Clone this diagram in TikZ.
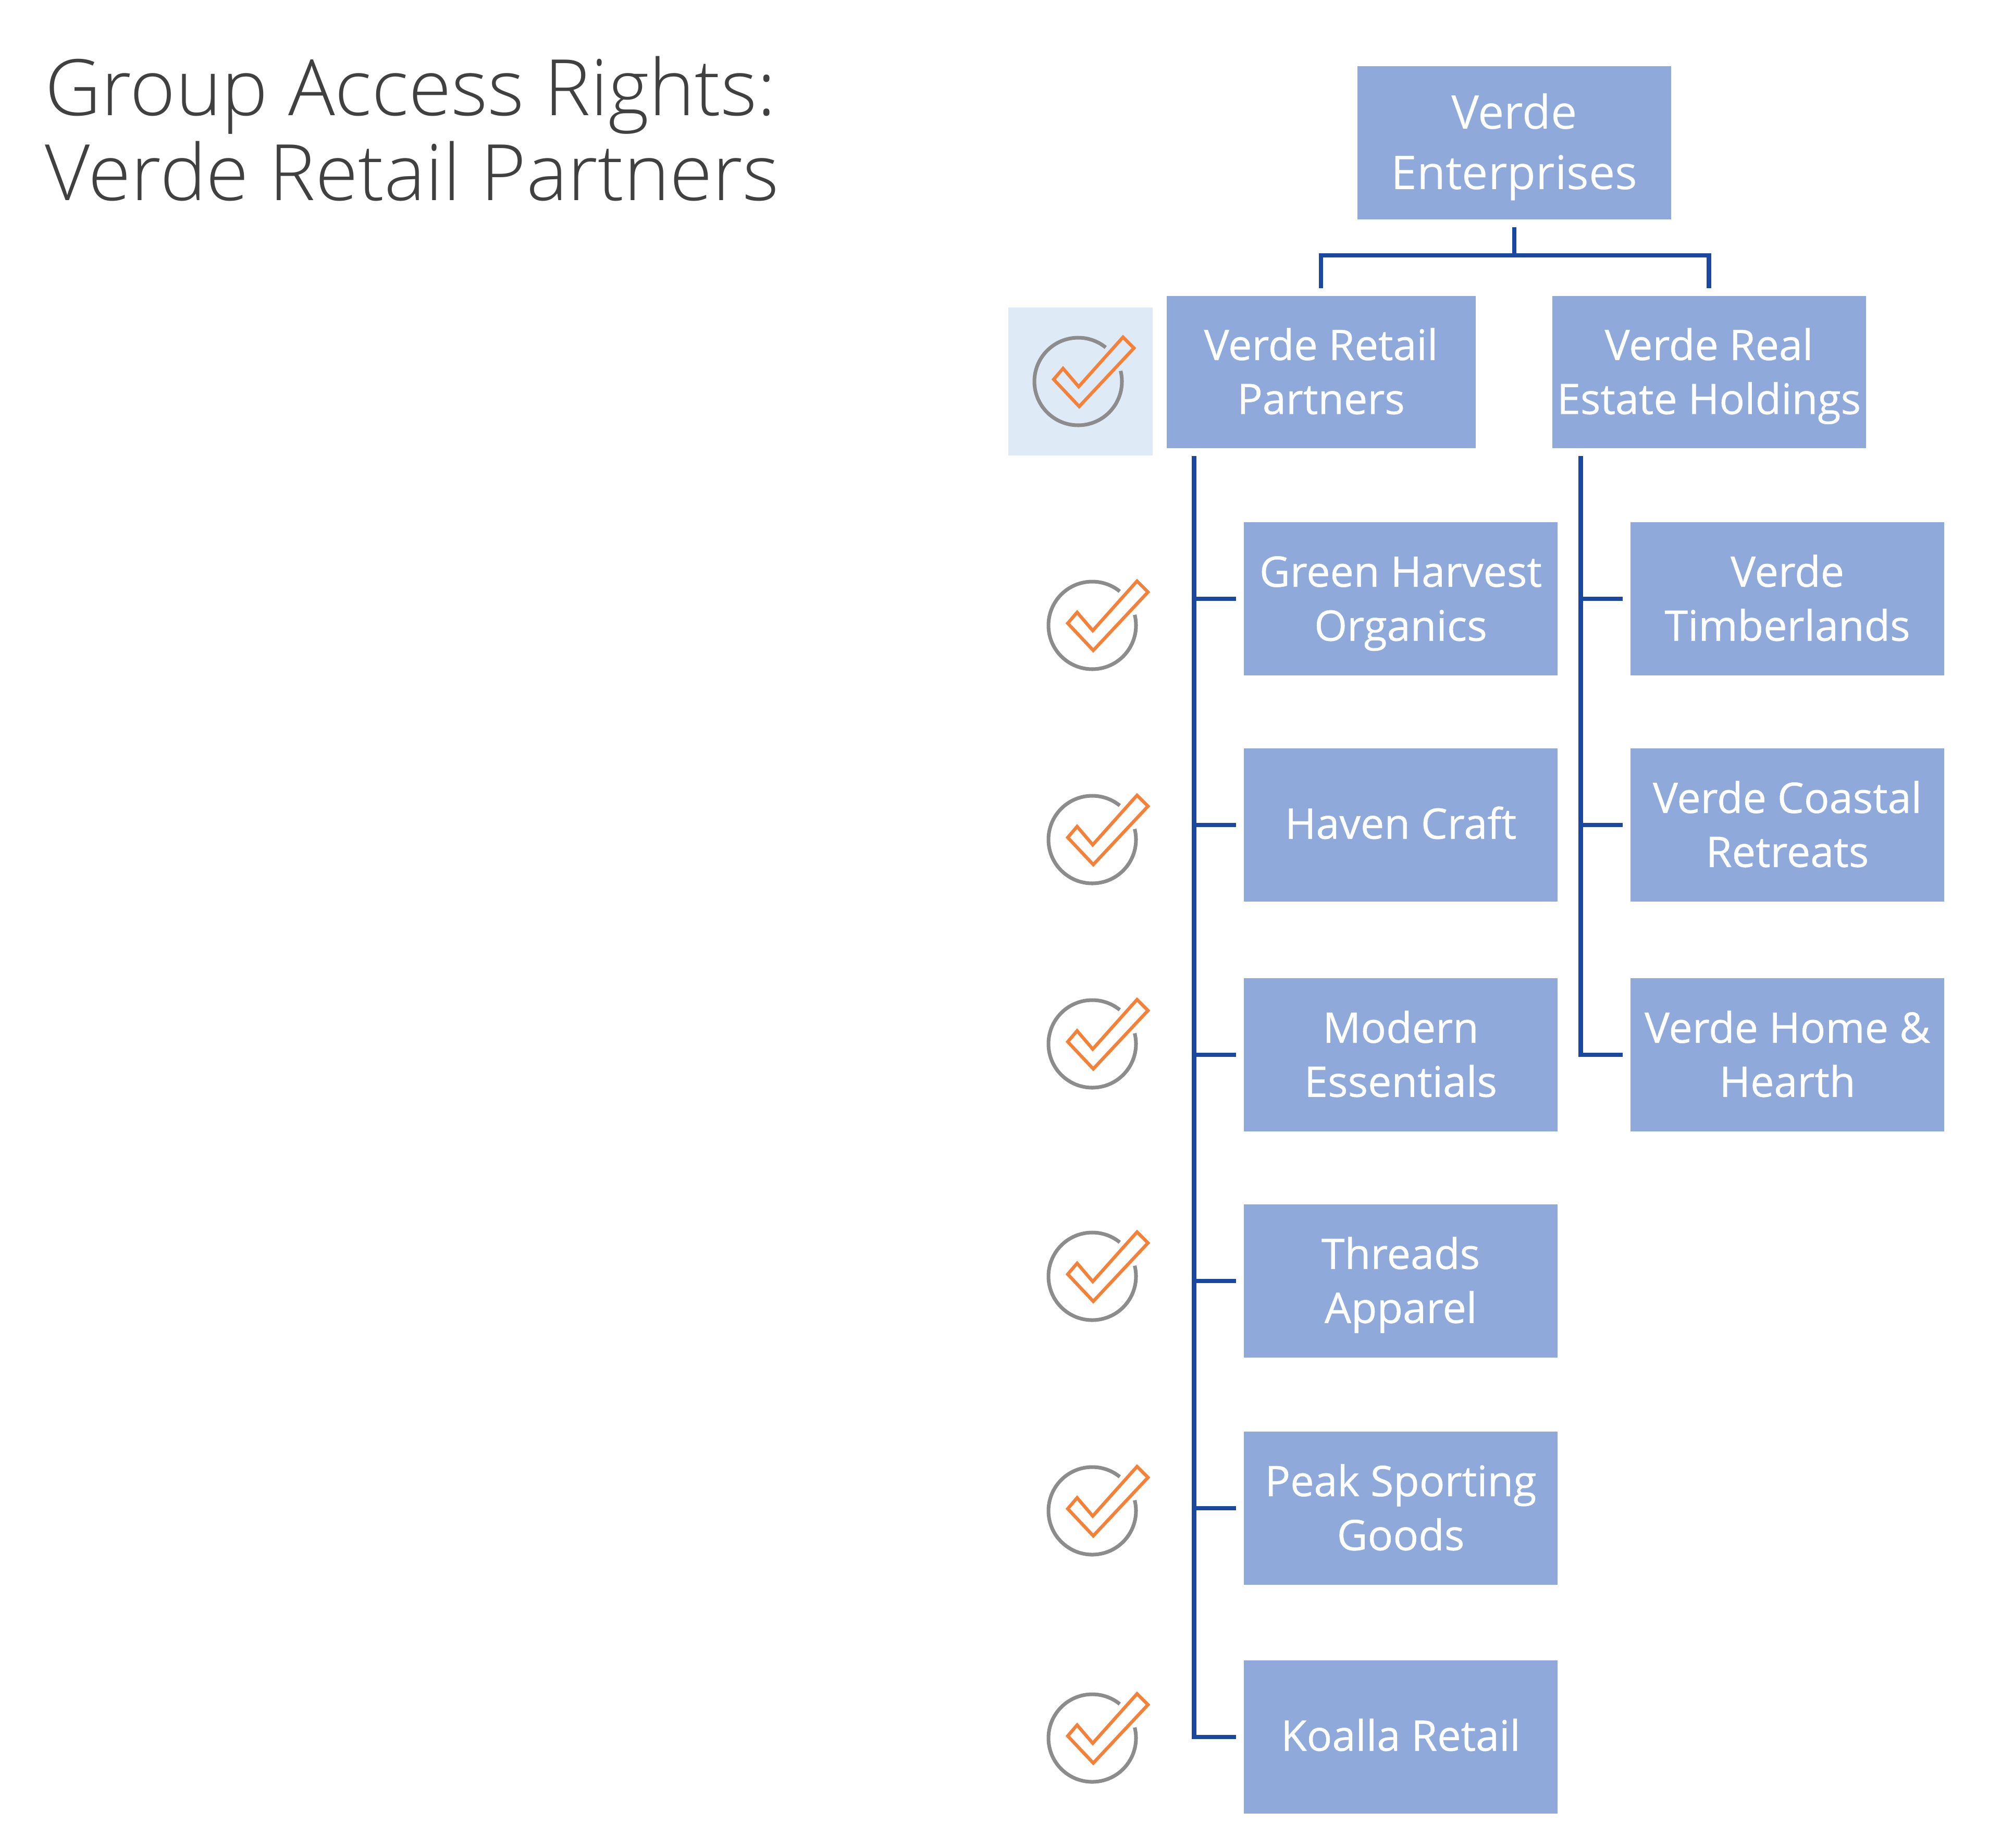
\documentclass[tikz,border=0pt]{standalone}
\usepackage{fontspec}
\setmainfont{Open Sans}
\newfontfamily\lightfont{Open Sans Light}
\newfontfamily\semifont[RawFeature={embolden=0.6}]{Open Sans}
\usepackage{xcolor}
\usetikzlibrary{positioning}

\definecolor{boxblue}{HTML}{8FA9DB}
\definecolor{linkblue}{HTML}{1A47A0}
\definecolor{paleblue}{HTML}{DEEAF6}
\definecolor{tickorange}{HTML}{F4813A}

\begin{document}
\begin{tikzpicture}[
    orgbox/.style={fill=boxblue, text=white, minimum width=6.02cm, minimum height=2.94cm,
                   inner sep=0pt, outer sep=0pt, align=center, font=\semifont\fontsize{23}{29.5}\selectfont,
                   text height=21pt, text depth=6pt},
    twoline/.style={orgbox, text height=51.8pt},
    link/.style={draw=linkblue, line width=2.4pt},
    tickmark/.pic={
      \draw[black!45, line width=2pt] (51:0.84) arc[start angle=51, end angle=374, radius=0.84];
      \draw[tickorange, line width=1.8pt, line join=miter]
        (-0.47,0.04) -- (-0.29,0.25) -- (0.01,-0.10) -- (0.86,0.85) -- (1.07,0.64) -- (0.02,-0.48) -- cycle;
    }
  ]
  \useasboundingbox (0,0) rectangle (38.4,-35.45);

  \node[anchor=north west, inner sep=0pt, align=left, text=black!75, font=\lightfont\fontsize{42.5}{46.5}\selectfont] (title)
    at (0.86,-1.07) {Group Access Rights:\\Verde Retail Partners};

  \node[twoline, font=\fontsize{25.5}{33}\selectfont, text height=57.2pt] (root) at (29.06,-2.74) {Verde\\Enterprises};
  \node[twoline, minimum width=5.93cm, minimum height=2.92cm] (retail) at (25.35,-7.14) {Verde Retail\\Partners};
  \node[twoline, minimum height=2.92cm, right=1.47cm of retail] (estate) {Verde Real\\Estate Holdings};

  \node[twoline] (green) at (26.88,-11.49) {Green Harvest\\Organics};
  \node[orgbox, below=1.40cm of green]  (haven)   {Haven Craft};
  \node[twoline, below=1.47cm of haven]  (modern)  {Modern\\Essentials};
  \node[twoline, below=1.40cm of modern] (threads) {Threads\\Apparel};
  \node[twoline, below=1.42cm of threads] (peak)   {Peak Sporting\\Goods};
  \node[orgbox, below=1.45cm of peak]   (koalla)  {Koalla Retail};

  \node[twoline, right=1.40cm of green]  (timber)  {Verde\\Timberlands};
  \node[twoline, below=1.40cm of timber] (coastal) {Verde Coastal\\Retreats};
  \node[twoline, below=1.47cm of coastal] (hearth) {Verde Home \&\\Hearth};

  % tree lines
  \coordinate (rootdrop) at ([yshift=-0.69cm]root.south);
  \coordinate (retailbus) at ([shift={(0.53,-0.15)}]retail.south west);
  \coordinate (estatebus) at ([shift={(0.55,-0.15)}]estate.south west);
  \draw[link] ([yshift=-0.15cm]root.south) -- (rootdrop);
  \draw[link] ([yshift=0.15cm]retail.north) |- (rootdrop) -| ([yshift=0.15cm]estate.north);
  \draw[link] (retailbus) |- ([xshift=-0.15cm]koalla.west);
  \draw[link] (estatebus) |- ([xshift=-0.15cm]hearth.west);
  \foreach \unit in {green,haven,modern,threads,peak}
    \draw[link] (retailbus |- \unit.west) -- ([xshift=-0.15cm]\unit.west);
  \foreach \unit in {timber,coastal}
    \draw[link] (estatebus |- \unit.west) -- ([xshift=-0.15cm]\unit.west);

  % access ticks
  \node[fill=paleblue, minimum width=2.77cm, minimum height=2.84cm, inner sep=0pt] (selected) at (20.73,-7.32) {};
  \pic at (20.69,-7.32) {tickmark};
  \foreach \y in {-12.00,-16.11,-20.03,-24.49,-28.99,-33.35}
    \pic at (20.96,\y) {tickmark};
\end{tikzpicture}
\end{document}
